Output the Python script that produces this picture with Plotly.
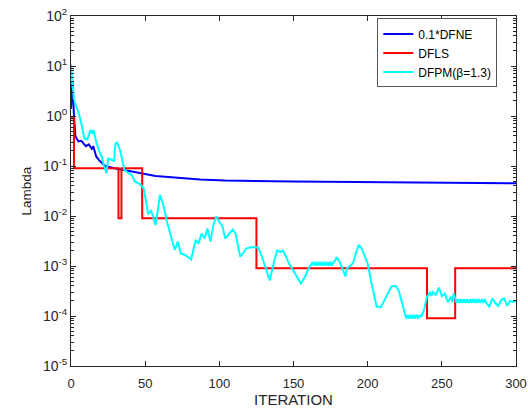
import numpy as np
import plotly.graph_objects as go

# 0.1*DFNE (iteration, value)
dfne_iter = [0, 1, 2, 3, 5, 7, 10, 12, 14, 15, 17, 19, 23, 30, 41, 57, 87, 104, 150, 188, 250, 300]
dfne_val = [1.4, 4.9, 1.0, 0.39, 0.31, 0.32, 0.25, 0.27, 0.22, 0.25, 0.155, 0.13, 0.10, 0.089,
            0.078, 0.063, 0.054, 0.051, 0.049, 0.048, 0.046, 0.045]

# DFLS step values (change points)
dfls_iter = [0, 2, 32, 34, 48, 125, 240, 259, 300]
dfls_val = [0.9, 0.09, 0.009, 0.09, 0.009, 0.0009, 0.00009, 0.0009, 0.0009]

# DFPM(beta=1.3) (iteration, log10 value)
dfpm_iter = [0, 2, 4, 5, 7, 9, 11, 12, 13, 14, 15, 17, 19, 21, 22, 24, 25, 27, 29, 30, 31, 33, 35, 36,
             39, 41, 43, 46, 48, 49, 52, 54, 55, 57, 60, 62, 65, 70, 72, 74, 77, 81, 84, 86, 88, 90,
             92, 94, 96, 98, 100, 102, 104, 107, 109, 111, 114, 116, 118, 122, 126, 128, 131, 134,
             137, 139, 141, 143, 147, 150, 155, 158, 160, 163,
             164, 165, 166, 167, 168, 169, 170, 171, 172, 173, 174, 175, 176, 177, 178,
             179, 181, 183, 185, 186, 188, 190, 192, 194, 196, 200, 203, 206, 209, 212, 216, 219,
             221, 226, 227, 228, 229, 230, 231, 232, 233, 234, 235, 236, 238, 240, 241, 242, 243,
             244, 246, 248, 250, 252, 254, 256, 257,
             258, 259, 260, 261, 262, 263, 264, 265, 266, 267, 268, 269, 270, 271, 272, 273, 274,
             275, 276, 277, 278, 279, 280, 282, 284, 286, 288, 290, 292, 294, 296, 298, 300]
dfpm_log = [1.03, 0.32, 0.15, 0.08, -0.15, -0.45, -0.47, -0.38, -0.28, -0.35, -0.28, -0.51, -0.71,
            -0.83, -0.98, -1.15, -0.85, -0.87, -0.9, -0.55, -0.53, -0.67, -0.98, -1.08,
            -1.15, -1.18, -1.31, -1.35, -1.41, -1.45, -1.95, -1.9, -1.97, -2.18, -1.58, -1.75,
            -2.15, -2.68, -2.51, -2.75, -2.78, -2.87, -2.48, -2.55, -2.35, -2.45,
            -2.25, -2.51, -2.18, -2.01, -2.12, -2.2, -2.45, -2.35, -2.27, -2.35, -2.81, -2.75,
            -2.65, -2.62, -2.63, -2.75, -3.01, -3.29,
            -2.9, -2.69, -2.72, -2.69, -2.95, -3.09, -3.35, -3.2, -3.06, -2.92,
            -2.99, -2.92, -2.99, -2.92, -2.99, -2.92, -2.99, -2.92, -2.99, -2.92, -2.99, -2.92,
            -2.99, -2.92, -2.9,
            -2.82, -2.91, -3.05, -3.21, -3.05, -3.0, -2.95, -2.75, -2.58, -2.65, -2.95, -3.4,
            -3.81, -3.82, -3.65, -3.41, -3.4,
            -3.5, -4.05, -3.98, -4.05, -3.98, -4.05, -3.98, -4.05, -3.98, -4.05, -3.98, -4.02,
            -3.88, -3.61, -3.58, -3.52, -3.6, -3.52,
            -3.58, -3.43, -3.6, -3.55, -3.72, -3.62, -3.72, -3.55,
            -3.66, -3.74, -3.66, -3.74, -3.66, -3.74, -3.66, -3.74, -3.66, -3.74, -3.66, -3.74,
            -3.66, -3.74, -3.66, -3.74, -3.66, -3.74, -3.66, -3.74, -3.66, -3.74,
            -3.81, -3.65, -3.74, -3.8, -3.68, -3.65, -3.8, -3.7, -3.72, -3.7, -3.72]
dfpm_val = [10 ** v for v in dfpm_log]

x_ticks = [0, 50, 100, 150, 200, 250, 300]
y_exps = [-5, -4, -3, -2, -1, 0, 1, 2]

axis_col = "#262626"
font_fam = "Liberation Sans, Arial, sans-serif"

fig = go.Figure()
fig.add_trace(go.Scatter(x=dfne_iter, y=dfne_val, mode="lines", name="0.1*DFNE",
                         line=dict(color="#0000ff", width=2)))
fig.add_trace(go.Scatter(x=dfls_iter, y=dfls_val, mode="lines", name="DFLS",
                         line=dict(color="#ff0000", width=2, shape="hv")))
fig.add_trace(go.Scatter(x=dfpm_iter, y=dfpm_val, mode="lines", name="DFPM(β=1.3)",
                         line=dict(color="#00ffff", width=2)))

minor_vals = [m * 10 ** e for e in range(-5, 2) for m in range(2, 10)]

fig.update_layout(
    width=528, height=409,
    margin=dict(l=71, r=12, t=16, b=43),
    paper_bgcolor="white", plot_bgcolor="white",
    font=dict(family=font_fam, size=12, color=axis_col),
    showlegend=True,
    legend=dict(x=0.958, y=0.993, xanchor="right", yanchor="top",
                bgcolor="white", bordercolor="#555555", borderwidth=1,
                font=dict(size=12, color="#000000"), itemwidth=30,
                tracegroupgap=0),
    xaxis=dict(range=[0, 300], tickvals=x_ticks, ticks="inside", ticklen=5,
               showline=True, linecolor=axis_col, linewidth=1, mirror="ticks",
               showgrid=False, zeroline=False, tickcolor=axis_col, automargin=False,
               ticklabelstandoff=5,
               tickfont=dict(size=13, color=axis_col),
               title=dict(text="ITERATION", font=dict(size=15, color=axis_col), standoff=2)),
    yaxis=dict(type="log", range=[-5, 2], tickvals=[10 ** e for e in y_exps],
               ticktext=["10<sup>%d</sup>" % e for e in y_exps],
               ticks="inside", ticklen=5, automargin=False,
               showline=True, linecolor=axis_col, linewidth=1, mirror="ticks",
               showgrid=False, zeroline=False, tickcolor=axis_col,
               tickfont=dict(size=14, color=axis_col),
               minor=dict(tickvals=minor_vals, ticks="inside", ticklen=3, tickcolor=axis_col,
                          showgrid=False),
               title=dict(text="Lambda", font=dict(size=13.5, color=axis_col), standoff=8)),
)

fig.write_html("out.html")
